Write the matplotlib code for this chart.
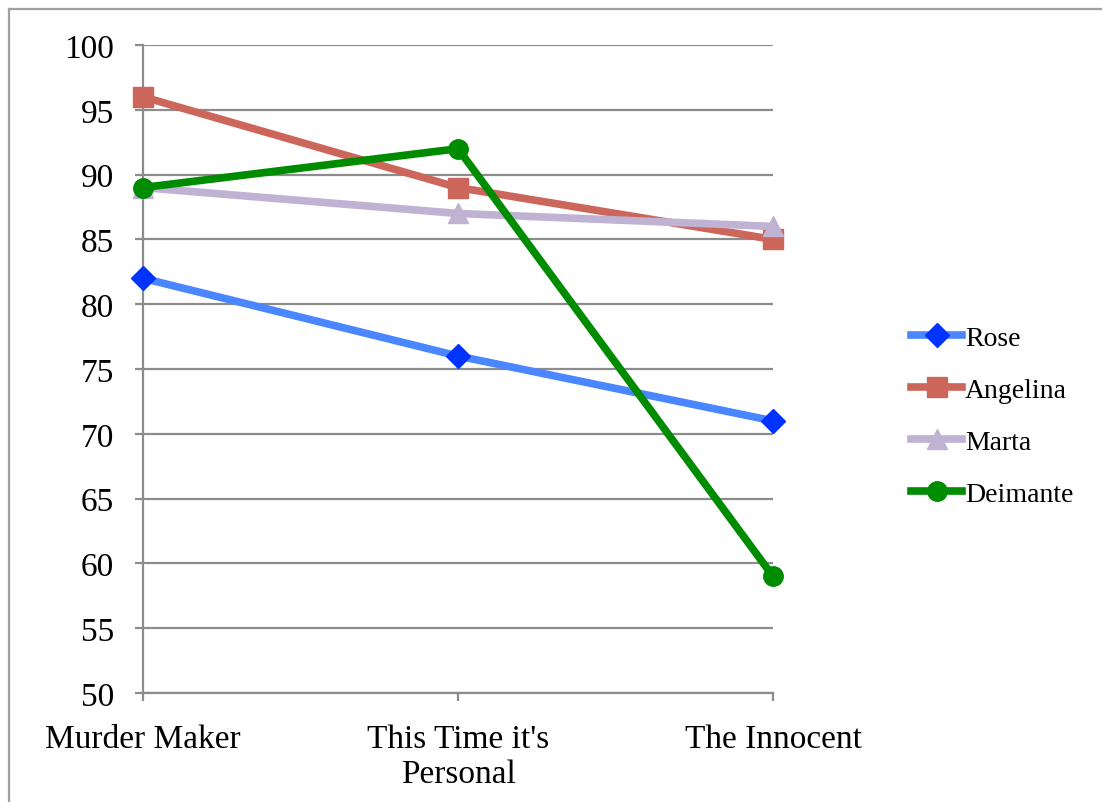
import matplotlib.pyplot as plt
from matplotlib.lines import Line2D

plt.rcParams['font.family'] = ['Liberation Serif', 'DejaVu Serif']

# chart data
movies = ['Murder Maker', "This Time it's\nPersonal", 'The Innocent']
rose = [82, 76, 71]
angelina = [96, 89, 85]
marta = [89, 87, 86]
deimante = [89, 92, 59]
y_ticks = [50, 55, 60, 65, 70, 75, 80, 85, 90, 95, 100]

W, H = 1102, 803
fig = plt.figure(figsize=(W / 100, H / 100), dpi=100)
ax = fig.add_axes([143 / W, 109 / H, 630 / W, 648 / H])

x = range(len(movies))
grid_col = '#8c8c8c'

ax.plot(x, rose, color='#4a86ff', lw=5.5, marker='D', ms=12,
        mfc='#0033ff', mec='#0033ff', label='Rose', zorder=3, clip_on=False)
ax.plot(x, angelina, color='#cc665a', lw=5.5, marker='s', ms=14,
        mfc='#cc665a', mec='#cc665a', label='Angelina', zorder=3,
        clip_on=False)
ax.plot(x, marta, color='#bfb2d3', lw=5.5, marker='^', ms=14,
        mfc='#bfb2d3', mec='#bfb2d3', label='Marta', zorder=3, clip_on=False)
ax.plot(x, deimante, color='#008c00', lw=5.5, marker='o', ms=14,
        mfc='#008c00', mec='#008c00', label='Deimante', zorder=4,
        clip_on=False)

ax.set_xlim(0, 2)
ax.set_ylim(50, 100)
ax.set_yticks(y_ticks)
ax.set_xticks(list(x))
ax.set_xticklabels(movies)
ax.grid(axis='y', color=grid_col, lw=1.6, zorder=1)
ax.set_axisbelow(True)

for s in ['top', 'right']:
    ax.spines[s].set_visible(False)
for s in ['left', 'bottom']:
    ax.spines[s].set_color(grid_col)
    ax.spines[s].set_linewidth(1.6)
    ax.spines[s].set_zorder(1)

ax.tick_params(axis='y', length=6, width=1.6, color=grid_col, pad=15,
               labelsize=24)
ax.tick_params(axis='x', length=6, width=1.6, color=grid_col, pad=16,
               labelsize=24)
for lbl in ax.get_xticklabels():
    lbl.set_linespacing(1.2)

fig.legend(loc='center left', bbox_to_anchor=(911 / W, 1 - 417 / H),
           frameon=False, fontsize=20, handlelength=1.85, handletextpad=0.1,
           labelspacing=0.96, borderpad=0, borderaxespad=0)

# outer chart frame
frame_col = '#a0a0a0'
fig.add_artist(Line2D([9 / W, 9 / W], [0, 1 - 10 / H], color=frame_col,
                      lw=1.6, transform=fig.transFigure))
fig.add_artist(Line2D([9 / W, 1], [1 - 10 / H, 1 - 10 / H], color=frame_col,
                      lw=1.6, transform=fig.transFigure))

fig.savefig('out.png', dpi=100)
